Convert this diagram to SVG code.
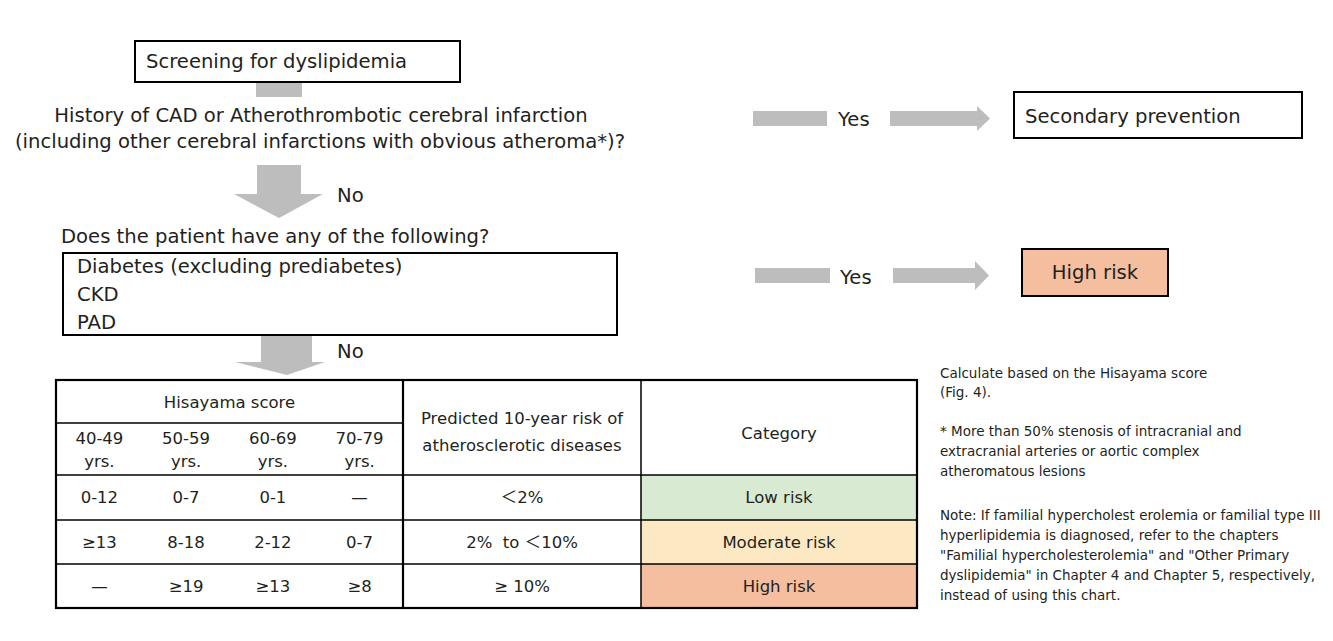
<svg xmlns="http://www.w3.org/2000/svg" width="1333" height="641" viewBox="0 0 1333 641">
<style>
text{font-family:"DejaVu Sans","Noto Sans CJK JP",sans-serif;fill:#231f20}
.f20{font-size:19.6px}
.f16{font-size:16.5px}
.f13{font-size:13.5px}
.c{text-anchor:middle}
.box{fill:#fff;stroke:#000;stroke-width:2}
.arr{fill:#bdbdbd}
.ln{stroke:#000;stroke-width:1.5;fill:none}
</style>
<rect width="1333" height="641" fill="#fff"/>
<g id="connectors">
<rect class="arr" x="256" y="82" width="46" height="15"/>
<polygon class="arr" points="257,165 301,165 301,194 323,194 279,218 234,194 257,194"/>
<text class="f20" x="337" y="202">No</text>
<polygon class="arr" points="261,336 312,336 312,362 325,362 287,375 235,362 261,362"/>
<text class="f20" x="337" y="358">No</text>
<rect class="arr" x="753" y="111" width="74" height="15"/>
<polygon class="arr" points="890,111 977,111 977,106 990,118.5 977,131 977,126 890,126"/>
<text class="f20" x="838" y="126">Yes</text>
<rect class="arr" x="755" y="268" width="75" height="15"/>
<polygon class="arr" points="893,268 975,268 975,261 989,275.5 975,290 975,283 893,283"/>
<text class="f20" x="840" y="284">Yes</text>
</g>
<g id="screening">
<rect class="box" x="135" y="41" width="325" height="41"/>
<text class="f20" x="146" y="68">Screening for dyslipidemia</text>
</g>
<g id="question1">
<text class="f20 c" x="321" y="122">History of CAD or Atherothrombotic cerebral infarction</text>
<text class="f20 c" x="320" y="148">(including other cerebral infarctions with obvious atheroma*)?</text>
</g>
<g id="secondary">
<rect class="box" x="1014" y="92" width="288" height="46"/>
<text class="f20" x="1025" y="123">Secondary prevention</text>
</g>
<g id="question2">
<text class="f20" x="61" y="243">Does the patient have any of the following?</text>
<rect class="box" x="63" y="253" width="554" height="82"/>
<text class="f20" x="77" y="273">Diabetes (excluding prediabetes)</text>
<text class="f20" x="77" y="301">CKD</text>
<text class="f20" x="77" y="329">PAD</text>
</g>
<g id="highrisk">
<rect class="box" x="1022" y="249" width="146" height="47" style="fill:#f4be9f"/>
<text class="f20 c" x="1095" y="279">High risk</text>
</g>
<g id="table">
<rect x="641" y="475" width="276" height="45" fill="#d9ead3"/>
<rect x="641" y="520" width="276" height="44" fill="#fce9c4"/>
<rect x="641" y="564" width="276" height="44" fill="#f4be9f"/>
<line class="ln" x1="56" y1="423" x2="403" y2="423"/>
<line class="ln" x1="56" y1="475" x2="917" y2="475"/>
<line class="ln" x1="56" y1="520" x2="917" y2="520"/>
<line class="ln" x1="56" y1="564" x2="917" y2="564"/>
<line class="ln" x1="641" y1="380" x2="641" y2="608"/>
<line x1="403" y1="380" x2="403" y2="608" stroke="#000" stroke-width="2.2"/>
<rect x="56" y="380" width="861" height="228" fill="none" stroke="#000" stroke-width="2.2"/>
<text class="f16 c" x="229.5" y="408">Hisayama score</text>
<text class="f16 c" x="99.4" y="444">40-49</text>
<text class="f16 c" x="99.4" y="467">yrs.</text>
<text class="f16 c" x="186.1" y="444">50-59</text>
<text class="f16 c" x="186.1" y="467">yrs.</text>
<text class="f16 c" x="272.9" y="444">60-69</text>
<text class="f16 c" x="272.9" y="467">yrs.</text>
<text class="f16 c" x="359.6" y="444">70-79</text>
<text class="f16 c" x="359.6" y="467">yrs.</text>
<text class="f16 c" x="522" y="424">Predicted 10-year risk of</text>
<text class="f16 c" x="522" y="451">atherosclerotic diseases</text>
<text class="f16 c" x="779" y="439">Category</text>
<text class="f16 c" x="99.4" y="503">0-12</text>
<text class="f16 c" x="186.1" y="503">0-7</text>
<text class="f16 c" x="272.9" y="503">0-1</text>
<text class="f16 c" x="359.6" y="503">—</text>
<text class="f16 c" x="522" y="503">＜2%</text>
<text class="f16 c" x="779" y="503">Low risk</text>
<text class="f16 c" x="99.4" y="548">≥13</text>
<text class="f16 c" x="186.1" y="548">8-18</text>
<text class="f16 c" x="272.9" y="548">2-12</text>
<text class="f16 c" x="359.6" y="548">0-7</text>
<text class="f16 c" x="522" y="548" xml:space="preserve">2%  to ＜10%</text>
<text class="f16 c" x="779" y="548">Moderate risk</text>
<text class="f16 c" x="99.4" y="592">—</text>
<text class="f16 c" x="186.1" y="592">≥19</text>
<text class="f16 c" x="272.9" y="592">≥13</text>
<text class="f16 c" x="359.6" y="592">≥8</text>
<text class="f16 c" x="522" y="592">≥ 10%</text>
<text class="f16 c" x="779" y="592">High risk</text>
</g>
<g id="notes">
<text class="f13" x="940" y="378">Calculate based on the Hisayama score</text>
<text class="f13" x="940" y="397">(Fig. 4).</text>
<text class="f13" x="940" y="436">* More than 50% stenosis of intracranial and</text>
<text class="f13" x="940" y="456">extracranial arteries or aortic complex</text>
<text class="f13" x="940" y="476">atheromatous lesions</text>
<text class="f13" x="940" y="520">Note: If familial hypercholest erolemia or familial type III</text>
<text class="f13" x="940" y="540">hyperlipidemia is diagnosed, refer to the chapters</text>
<text class="f13" x="940" y="560">"Familial hypercholesterolemia" and "Other Primary</text>
<text class="f13" x="940" y="580">dyslipidemia" in Chapter 4 and Chapter 5, respectively,</text>
<text class="f13" x="940" y="600">instead of using this chart.</text>
</g>
</svg>
